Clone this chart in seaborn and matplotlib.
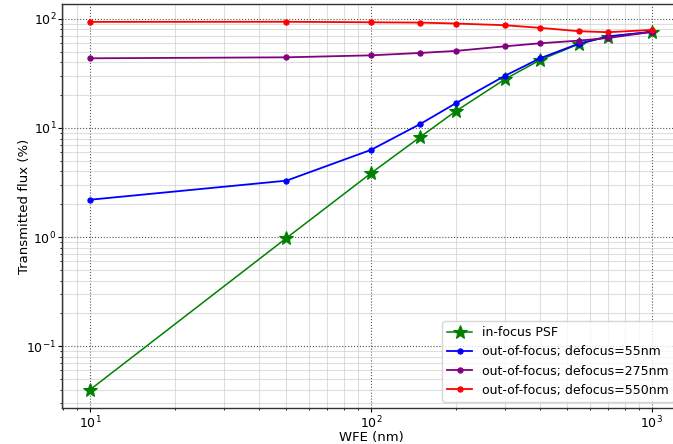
import matplotlib
matplotlib.use("Agg")
import matplotlib.pyplot as plt
import seaborn as sns
import pandas as pd
from matplotlib.ticker import LogLocator, NullFormatter

wfe = [10, 50, 100, 150, 200, 300, 400, 550, 700, 1000]
infocus = [0.04, 0.98, 3.85, 8.3, 14.2, 28.0, 42.0, 58.9, 68.7, 76.4]
defocus55 = [2.2, 3.29, 6.3, 10.9, 16.8, 30.1, 43.5, 59.3, 69.2, 75.9]
defocus275 = [43.5, 44.4, 46.3, 48.7, 50.8, 56.0, 59.7, 63.2, 66.8, 75.9]
defocus550 = [93.8, 94.0, 93.0, 92.4, 90.6, 87.4, 82.7, 77.0, 75.4, 79.2]

labels = ["in-focus PSF", "out-of-focus; defocus=55nm",
          "out-of-focus; defocus=275nm", "out-of-focus; defocus=550nm"]
series = [infocus, defocus55, defocus275, defocus550]
colors = ["green", "blue", "purple", "red"]

fig = plt.figure(figsize=(6.73, 4.44), dpi=100)
ax = fig.add_axes([62 / 673, 36 / 444, 618 / 673, 404 / 444])

for i, (lab, vals, col) in enumerate(zip(labels, series, colors)):
    df = pd.DataFrame({"WFE": wfe, "flux": vals})
    if i == 0:
        sns.lineplot(data=df, x="WFE", y="flux", ax=ax, color=col, label=lab,
                     marker="*", markersize=10, linewidth=1.1,
                     markeredgecolor=col, estimator=None)
    else:
        sns.lineplot(data=df, x="WFE", y="flux", ax=ax, color=col, label=lab,
                     marker="o", markersize=3.8, linewidth=1.3,
                     markeredgecolor=col, estimator=None)

ax.set_xscale("log")
ax.set_yscale("log")
ax.set_xlim(10 ** (1 - 0.1), 10 ** (3 + 0.1))
ax.set_ylim(10 ** (-1.566), 10 ** 2.136)

ax.xaxis.set_minor_locator(LogLocator(base=10, subs=range(2, 10), numticks=20))
ax.yaxis.set_minor_locator(LogLocator(base=10, subs=range(2, 10), numticks=20))
ax.xaxis.set_minor_formatter(NullFormatter())
ax.yaxis.set_minor_formatter(NullFormatter())

ax.grid(which="minor", color="#d0d0d0", linestyle="-", linewidth=0.8, alpha=0.7)
ax.grid(which="major", color="#555555", linestyle=":", linewidth=0.8)
ax.set_axisbelow(True)

for s in ax.spines.values():
    s.set_color("#333333")
    s.set_linewidth(1.0)

ax.tick_params(which="major", length=3, pad=1.5, labelsize=9)
ax.tick_params(axis="y", which="major", pad=1)
ax.tick_params(which="minor", length=1.5)
ax.set_xlabel("WFE (nm)", fontsize=9.5, labelpad=0)
ax.set_ylabel("Transmitted flux (%)", fontsize=9.5, labelpad=-3)
ax.legend(loc="lower right", fontsize=9, framealpha=0.8)

fig.savefig("out.png", dpi=100)
